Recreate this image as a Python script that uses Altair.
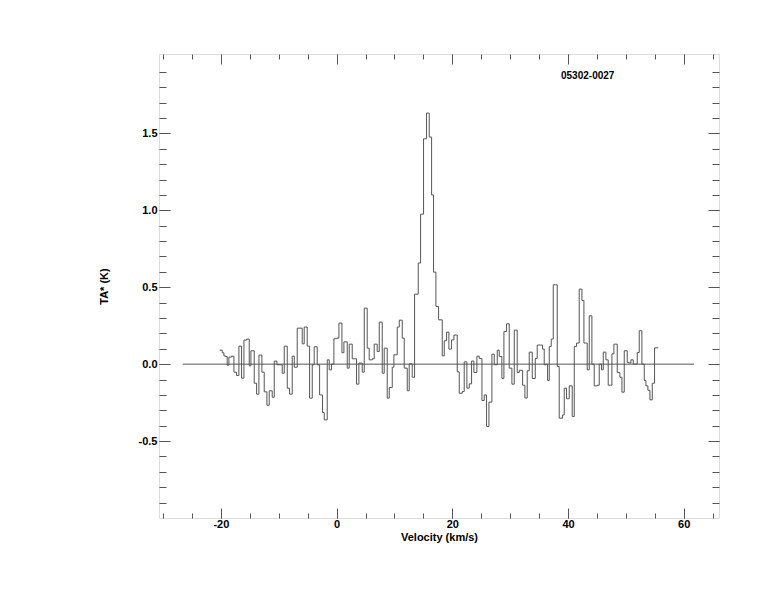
import altair as alt
import pandas as pd

# ---- data ----
# left edges of each step (km/s); last entry is the right edge of the final channel
velocity = [-20.23, -19.77, -19.48, -19.25, -18.91, -18.62, -18.16, -17.75, -17.29, -16.89,
            -16.43, -16.02, -15.56, -15.10, -14.81, -14.24, -13.83, -13.43, -12.91, -12.51,
            -12.05, -11.65, -11.13, -10.78, -10.32, -9.86, -9.40, -9.05, -8.53, -8.13,
            -7.67, -7.32, -6.81, -6.37, -5.94, -5.60, -5.08, -4.67, -4.21, -3.87,
            -3.35, -2.94, -2.43, -2.14, -1.62, -1.27, -0.87, -0.47, -0.01, 0.40,
            0.92, 1.26, 1.84, 2.18, 2.70, 3.45, 3.85, 4.43, 4.78, 5.29,
            5.64, 6.16, 6.50, 7.02, 7.37, 7.89, 8.23, 8.75, 9.10, 9.62,
            9.90, 10.48, 10.83, 11.35, 11.69, 12.21, 12.55, 13.07, 13.48, 14.11,
            14.52, 15.03, 15.55, 16.01, 16.42, 16.76, 17.17, 17.63, 18.26, 18.61,
            19.01, 19.41, 19.87, 20.28, 20.85, 21.20, 21.72, 22.06, 22.52, 22.93,
            23.33, 23.73, 24.25, 24.66, 25.12, 25.52, 25.92, 26.33, 26.85, 27.25,
            27.77, 28.11, 28.57, 28.92, 29.38, 29.84, 30.30, 30.71, 31.22, 31.57,
            32.15, 32.55, 32.95, 33.30, 33.82, 34.34, 34.68, 35.14, 35.60, 35.89,
            36.18, 36.47, 36.76, 37.10, 37.45, 37.79, 38.14, 38.48, 39.06, 39.35,
            39.75, 40.21, 40.73, 41.08, 41.48, 41.94, 42.40, 42.75, 43.04, 43.32,
            43.67, 44.13, 44.53, 45.05, 45.40, 45.80, 46.09, 46.55, 46.95, 47.30,
            47.59, 47.93, 48.22, 48.51, 48.97, 49.32, 49.72, 50.24, 50.58, 50.87,
            51.28, 51.62, 51.97, 52.31, 52.77, 53.18, 53.47, 53.81, 54.16, 54.56,
            54.96, 55.60]

ta = [0.091, 0.074, 0.054, 0.050, -0.007, 0.046, 0.052, -0.052, -0.074, 0.117,
      -0.091, 0.156, 0.163, -0.011, 0.087, -0.124, -0.195, 0.059, -0.052, -0.180,
      -0.267, -0.173, -0.215, 0.020, -0.004, -0.004, -0.059, 0.117, -0.156, -0.195,
      0.052, -0.020, 0.234, 0.234, 0.132, 0.241, 0.117, -0.221, -0.004, 0.113,
      -0.004, -0.200, -0.314, -0.362, 0.028, -0.037, 0.000, 0.165, 0.169, 0.267,
      0.074, 0.145, -0.026, 0.130, 0.035, -0.130, 0.007, -0.052, 0.364, 0.104,
      0.028, 0.035, 0.130, 0.082, 0.273, -0.059, 0.104, -0.221, -0.152, -0.020,
      0.061, 0.241, 0.286, 0.169, -0.026, -0.173, 0.002, -0.085, 0.455, 0.657,
      0.975, 1.465, 1.632, 1.476, 1.100, 0.598, 0.375, 0.288, 0.054, 0.152,
      0.208, 0.098, 0.158, 0.189, -0.050, -0.189, -0.178, 0.015, -0.156, -0.128,
      0.020, -0.054, 0.052, 0.037, -0.236, -0.200, -0.405, -0.247, 0.065, -0.004,
      0.091, 0.050, -0.093, 0.212, 0.262, -0.026, -0.130, 0.221, -0.054, -0.040,
      -0.137, -0.220, -0.043, 0.078, -0.093, 0.037, 0.124, 0.124, 0.098, -0.004,
      0.000, -0.106, 0.115, 0.163, 0.516, 0.516, -0.015, -0.351, -0.330, -0.156,
      -0.225, -0.141, -0.340, 0.115, 0.137, 0.488, 0.414, 0.137, 0.137, -0.037,
      0.314, 0.000, -0.141, -0.137, 0.000, -0.037, 0.078, 0.028, -0.137, -0.137,
      0.067, 0.130, 0.130, -0.055, -0.085, -0.182, 0.087, 0.011, 0.007, 0.028,
      0.000, 0.000, 0.076, 0.217, 0.000, -0.106, -0.141, -0.170, -0.232, -0.124,
      0.106]

baseline_vel = [-26.6, 61.8]
baseline_ta = [0.0, 0.0]

source_name = ["05302-0027"]
source_vel = [43.4]
source_ta = [1.875]

x_major = [-20, 0, 20, 40, 60]
x_minor = [-30, -25, -20, -15, -10, -5, 0, 5, 10, 15, 20, 25, 30, 35, 40, 45, 50, 55, 60, 65]
y_major = [-0.5, 0.0, 0.5, 1.0, 1.5]
y_minor = [-0.9, -0.8, -0.7, -0.6, -0.5, -0.4, -0.3, -0.2, -0.1, 0.0, 0.1, 0.2, 0.3, 0.4,
           0.5, 0.6, 0.7, 0.8, 0.9, 1.0, 1.1, 1.2, 1.3, 1.4, 1.5, 1.6, 1.7, 1.8, 1.9]

x_domain = [-30.7, 66.1]
y_domain = [-1.0, 2.016]

# ---- chart ----
W, H = 560, 464
FONT = "Liberation Sans"
LINE = "#555555"

spec = pd.DataFrame({"v": velocity, "t": ta + [ta[-1]]})
base_df = pd.DataFrame({"v": baseline_vel, "t": baseline_ta})
lab_df = pd.DataFrame({"v": source_vel, "t": source_ta, "name": source_name})
xt_major = pd.DataFrame({"v": x_major})
xt_minor = pd.DataFrame({"v": x_minor})
yt_major = pd.DataFrame({"t": y_major})
yt_minor = pd.DataFrame({"t": y_minor})

xs = alt.Scale(domain=x_domain, nice=False, zero=False)
ys = alt.Scale(domain=y_domain, nice=False, zero=False)

HYPHEN = "replace(datum.label, '\u2212', '-')"

x_label_axis = alt.Axis(orient="bottom", values=x_major, ticks=False, domain=False, grid=False,
                        labelFont=FONT, labelFontSize=11, labelFontWeight="bold", labelColor="black",
                        labelPadding=0, format="d", labelExpr=HYPHEN,
                        title="Velocity (km/s)", titleFont=FONT, titleFontSize=11,
                        titleFontWeight="bold", titleColor="black", titlePadding=2)
y_label_axis = alt.Axis(orient="left", values=y_major, ticks=False, domain=False, grid=False,
                        labelFont=FONT, labelFontSize=11, labelFontWeight="bold", labelColor="black",
                        labelPadding=2, format=".1f", labelExpr=HYPHEN,
                        title="TA* (K)", titleFont=FONT, titleFontSize=11,
                        titleFontWeight="bold", titleColor="black", titlePadding=29)


def tick_axis(orient, values, size):
    # an axis pulled across to the opposite edge, so its ticks point into the frame
    return alt.Axis(orient=orient, offset=-(H if orient in ("top", "bottom") else W),
                    values=values, labels=False, domain=False, grid=False,
                    ticks=True, tickSize=size, tickColor=LINE, tickWidth=1, title="")


line = alt.Chart(spec).mark_line(interpolate="step-after", color=LINE, strokeWidth=1).encode(
    x=alt.X("v:Q", scale=xs, axis=x_label_axis),
    y=alt.Y("t:Q", scale=ys, axis=y_label_axis),
)

zero = alt.Chart(base_df).mark_line(color=LINE, strokeWidth=1).encode(
    x=alt.X("v:Q", scale=xs, axis=None),
    y=alt.Y("t:Q", scale=ys, axis=None),
)

label = alt.Chart(lab_df).mark_text(font=FONT, fontSize=10, fontWeight="bold", color="black",
                                    align="center", baseline="middle").encode(
    x=alt.X("v:Q", scale=xs, axis=None),
    y=alt.Y("t:Q", scale=ys, axis=None),
    text="name:N",
)

x_tick_layers = []
for orient in ("top", "bottom"):
    for df, size in ((xt_major, 10), (xt_minor, 5)):
        x_tick_layers.append(
            alt.Chart(df).mark_rule(opacity=0).encode(
                x=alt.X("v:Q", scale=xs, axis=tick_axis(orient, list(df["v"]), size))
            )
        )

y_tick_layers = []
for orient in ("right", "left"):
    for df, size in ((yt_major, 11), (yt_minor, 7)):
        y_tick_layers.append(
            alt.Chart(df).mark_rule(opacity=0).encode(
                y=alt.Y("t:Q", scale=ys, axis=tick_axis(orient, list(df["t"]), size))
            )
        )

chart = alt.layer(line, zero, label, *x_tick_layers, *y_tick_layers).resolve_axis(
    x="independent", y="independent"
).properties(
    width=W, height=H,
    autosize=alt.AutoSizeParams(type="none"),
    padding={"left": 151, "top": 46, "right": 47, "bottom": 86},
).configure_view(
    stroke=LINE, strokeWidth=1
).configure(background="white")

chart.save("out.html", embed_options={"renderer": "svg", "actions": False})
